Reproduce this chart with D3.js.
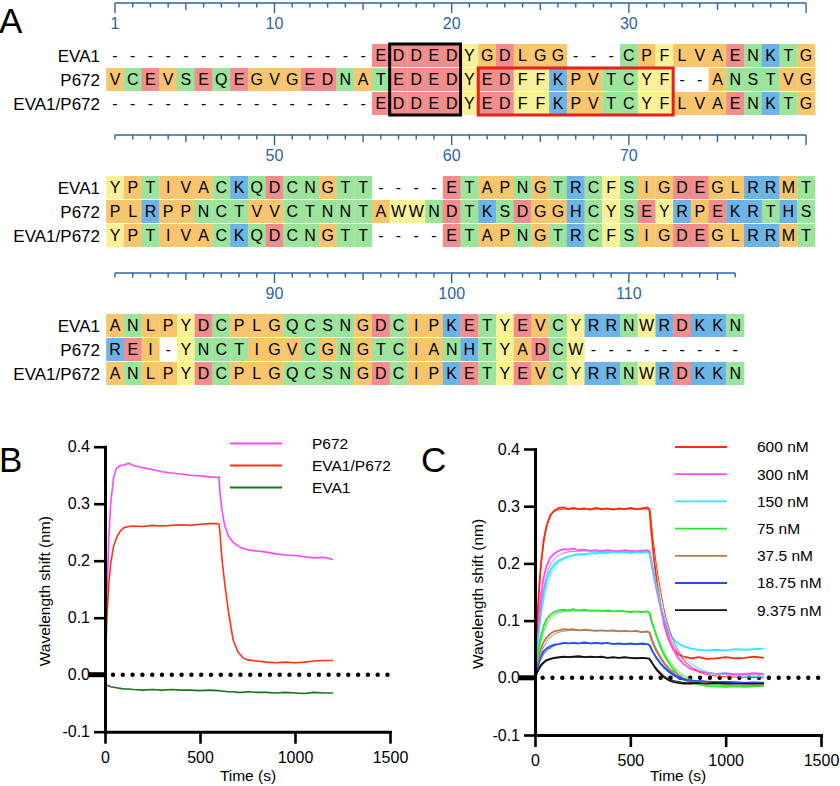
<!DOCTYPE html>
<html><head><meta charset="utf-8">
<script src="https://cdn.jsdelivr.net/npm/d3@7"></script>
<style>
body{margin:0;background:#fff}
svg{display:block}
text{font-family:"Liberation Sans",Arial,Helvetica,sans-serif}
</style>
</head><body>
<svg id="fig" width="840" height="786"></svg>
<script>
// ---------------- Panel A : alignment data ----------------
const seqNames = ["EVA1", "P672", "EVA1/P672"];
const block1 = [
  "---------------EDDEDYGDLGG---CPFLVAENKTG",
  "VCEVSEQEGVGEDNATEDEDYEDFFKPVTCYF--ANSTVG",
  "---------------EDDEDYEDFFKPVTCYFLVAENKTG"
];
const block2 = [
  "YPTIVACKQDCNGTT----ETAPNGTRCFSIGDEGLRRMT",
  "PLRPPNCTVVCTNNTAWWNDTKSDGGHCYSEYRPEKRTHS",
  "YPTIVACKQDCNGTT----ETAPNGTRCFSIGDEGLRRMT"
];
const block3 = [
  "ANLPYDCPLGQCSNGDCIPKETYEVCYRRNWRDKKN",
  "REI-YNCTIGVCGNGTCIANHTYADCW---------",
  "ANLPYDCPLGQCSNGDCIPKETYEVCYRRNWRDKKN"
];
const blockStarts = [1, 41, 81];
const residueGroups = {
  acidic: "DE", hydrophobic: "AVLIPGM", polar: "CSTNQ", basic: "KRH", aromatic: "FYW"
};
const groupColors = {
  acidic: "#f18d8d", hydrophobic: "#f8c56f", polar: "#9ce39c", basic: "#6db4e6", aromatic: "#f9f197"
};

// ---------------- Panel B : binding traces ----------------
const timeB = [0,5,10,20,30,45,60,80,100,125,150,200,250,300,350,400,450,500,550,595,600,605,615,630,650,675,700,725,750,800,850,900,950,1000,1050,1100,1150,1200];
const bP672 = [0,0.07,0.14,0.24,0.3,0.345,0.362,0.367,0.368,0.371,0.367,0.363,0.36,0.356,0.354,0.352,0.35,0.349,0.347,0.346,0.347,0.32,0.29,0.262,0.243,0.232,0.226,0.222,0.219,0.217,0.215,0.212,0.21,0.209,0.207,0.205,0.206,0.202];
const bEVA1P672 = [0,0.05,0.1,0.16,0.195,0.225,0.24,0.252,0.258,0.26,0.261,0.26,0.262,0.261,0.262,0.263,0.262,0.264,0.265,0.265,0.264,0.25,0.205,0.16,0.11,0.06,0.04,0.03,0.026,0.024,0.022,0.021,0.022,0.021,0.022,0.024,0.025,0.025];
const bEVA1 = [-0.013,-0.016,-0.018,-0.02,-0.021,-0.022,-0.023,-0.024,-0.025,-0.025,-0.026,-0.027,-0.026,-0.027,-0.026,-0.027,-0.027,-0.028,-0.027,-0.028,-0.028,-0.028,-0.029,-0.029,-0.03,-0.03,-0.031,-0.031,-0.03,-0.031,-0.031,-0.032,-0.031,-0.032,-0.033,-0.031,-0.032,-0.032];
const bLabels = ["P672", "EVA1/P672", "EVA1"];
const bColors = ["#ff45ff", "#ff3414", "#17761b"];

// ---------------- Panel C : concentration series ----------------
const timeC = [0,10,20,30,45,60,80,100,125,150,175,200,230,260,290,320,350,380,410,440,470,500,530,560,590,600,610,625,640,660,680,700,725,750,780,820,860,900,950,1000,1050,1100,1150,1200];
const c600 = [0,0.085,0.15,0.195,0.24,0.265,0.284,0.292,0.297,0.298,0.295,0.297,0.295,0.296,0.294,0.297,0.295,0.296,0.294,0.296,0.295,0.297,0.295,0.296,0.298,0.294,0.255,0.205,0.165,0.125,0.09,0.068,0.05,0.041,0.037,0.034,0.036,0.033,0.034,0.036,0.034,0.035,0.037,0.035];
const c300 = [0,0.06,0.105,0.14,0.175,0.195,0.21,0.217,0.222,0.225,0.224,0.226,0.223,0.224,0.222,0.223,0.221,0.223,0.222,0.221,0.223,0.222,0.221,0.222,0.223,0.221,0.2,0.175,0.15,0.12,0.092,0.07,0.05,0.035,0.024,0.015,0.011,0.009,0.007,0.008,0.006,0.007,0.008,0.007];
const c150 = [0,0.045,0.085,0.115,0.148,0.17,0.188,0.198,0.205,0.209,0.212,0.214,0.216,0.215,0.218,0.217,0.219,0.218,0.22,0.219,0.22,0.218,0.22,0.219,0.22,0.218,0.205,0.18,0.155,0.125,0.1,0.08,0.068,0.06,0.055,0.051,0.049,0.048,0.049,0.048,0.05,0.049,0.05,0.051];
const c75 = [0,0.03,0.055,0.072,0.09,0.102,0.11,0.115,0.118,0.119,0.118,0.12,0.118,0.119,0.117,0.118,0.117,0.118,0.116,0.117,0.116,0.115,0.116,0.115,0.116,0.113,0.1,0.085,0.07,0.052,0.038,0.027,0.015,0.006,-0.002,-0.008,-0.012,-0.014,-0.015,-0.016,-0.015,-0.016,-0.015,-0.014];
const c37 = [0,0.02,0.038,0.05,0.062,0.07,0.077,0.081,0.083,0.085,0.084,0.085,0.083,0.084,0.083,0.082,0.083,0.082,0.083,0.081,0.082,0.081,0.082,0.08,0.081,0.079,0.068,0.055,0.045,0.033,0.024,0.016,0.008,0.002,-0.003,-0.007,-0.009,-0.01,-0.011,-0.012,-0.011,-0.012,-0.013,-0.012];
const c18 = [0,0.015,0.028,0.037,0.046,0.051,0.055,0.058,0.059,0.061,0.06,0.061,0.06,0.062,0.06,0.061,0.06,0.061,0.059,0.06,0.059,0.06,0.059,0.06,0.059,0.057,0.05,0.041,0.033,0.024,0.017,0.011,0.005,0,-0.003,-0.005,-0.006,-0.007,-0.008,-0.007,-0.008,-0.009,-0.008,-0.009];
const c9 = [0,0.008,0.016,0.022,0.027,0.031,0.033,0.035,0.036,0.037,0.036,0.037,0.038,0.036,0.037,0.036,0.037,0.035,0.036,0.035,0.036,0.035,0.034,0.035,0.034,0.033,0.028,0.02,0.013,0.006,0,-0.004,-0.007,-0.009,-0.01,-0.01,-0.009,-0.01,-0.009,-0.01,-0.011,-0.01,-0.011,-0.01];
const timeFit = [0,20,40,60,80,100,130,160,200,300,400,500,600,620,640,660,680,700,730,760,800,850,900,1000,1100,1200];
const f600 = [0,0.14,0.22,0.262,0.282,0.29,0.294,0.295,0.295,0.295,0.295,0.295,0.295,0.24,0.19,0.15,0.115,0.09,0.062,0.042,0.025,0.012,0.006,0.002,0.001,0];
const f300 = [0,0.09,0.145,0.178,0.197,0.207,0.215,0.219,0.221,0.222,0.222,0.222,0.222,0.185,0.152,0.123,0.098,0.078,0.055,0.038,0.024,0.014,0.009,0.006,0.005,0.005];
const f150 = [0,0.075,0.125,0.157,0.178,0.192,0.203,0.209,0.214,0.218,0.219,0.219,0.219,0.185,0.155,0.128,0.104,0.085,0.062,0.045,0.03,0.018,0.011,0.005,0.003,0.002];
const f75 = [0,0.045,0.075,0.093,0.104,0.11,0.114,0.116,0.117,0.117,0.116,0.116,0.115,0.092,0.073,0.057,0.043,0.032,0.019,0.009,0,-0.006,-0.01,-0.013,-0.014,-0.014];
const f37 = [0,0.03,0.05,0.062,0.071,0.076,0.08,0.082,0.083,0.083,0.082,0.081,0.08,0.063,0.049,0.037,0.027,0.019,0.01,0.003,-0.003,-0.007,-0.009,-0.011,-0.012,-0.012];
const f18 = [0,0.023,0.038,0.047,0.052,0.056,0.059,0.06,0.06,0.06,0.06,0.059,0.058,0.045,0.035,0.026,0.019,0.013,0.006,0.001,-0.003,-0.005,-0.006,-0.007,-0.008,-0.008];
const f9 = [0,0.014,0.023,0.029,0.032,0.034,0.035,0.036,0.036,0.036,0.035,0.035,0.034,0.024,0.016,0.009,0.003,-0.001,-0.005,-0.007,-0.009,-0.009,-0.01,-0.01,-0.01,-0.01];
const cLabels = ["600 nM", "300 nM", "150 nM", "75 nM", "37.5 nM", "18.75 nM", "9.375 nM"];
const cColors = ["#ff2a0a", "#ff4cff", "#28eaff", "#2ee52e", "#b07c4c", "#1f4dff", "#111111"];

const yTicks = [-0.1, 0, 0.1, 0.2, 0.3, 0.4];
const xTicks = [0, 500, 1000, 1500];

// ======================= drawing =======================
const svg = d3.select("#fig");
const FONT = '"Liberation Sans",Arial,Helvetica,sans-serif';

function colorOf(ch) {
  for (const k in residueGroups) if (residueGroups[k].includes(ch)) return groupColors[k];
  return null;
}

// panel letters
svg.append("text").attr("x", -1).attr("y", 33).attr("font-size", 35).text("A");
svg.append("text").attr("x", -1).attr("y", 472).attr("font-size", 35).text("B");
svg.append("text").attr("x", 421).attr("y", 472).attr("font-size", 35).text("C");

const colStep = 17.72;
const rulerYs = [3, 135, 273];
const blocks = [block1, block2, block3];
const rulerColor = "#2c64a3";

blocks.forEach((rows, bi) => {
  const n = rows[0].length;
  const start = blockStarts[bi];
  const ry = rulerYs[bi];
  const xb = d3.scaleBand().domain(d3.range(n))
    .range([115 - colStep / 2, 115 - colStep / 2 + n * colStep]).padding(0);
  const yb = d3.scaleBand().domain(seqNames)
    .range([ry + 41, ry + 112]).paddingInner(0.04).paddingOuter(0);
  const g = svg.append("g");

  // ruler
  const cx = i => xb(i) + xb.bandwidth() / 2;
  g.append("line").attr("x1", cx(0)).attr("x2", cx(n - 1)).attr("y1", ry).attr("y2", ry)
    .attr("stroke", rulerColor).attr("stroke-width", 1.4);
  d3.range(n).forEach(i => {
    const p = start + i;
    const len = (p % 10 === 0 || p === 1) ? 10 : (p % 5 === 0 ? 7 : 4.5);
    g.append("line").attr("x1", cx(i)).attr("x2", cx(i)).attr("y1", ry).attr("y2", ry + len)
      .attr("stroke", rulerColor).attr("stroke-width", 1.4);
    if ((p === 1 || p % 10 === 0) && i < n - 1) {
      g.append("text").attr("x", cx(i)).attr("y", ry + 20).attr("dy", "0.35em")
        .attr("text-anchor", "middle").attr("font-size", 16).attr("fill", rulerColor).text(p);
    }
  });

  // cells + letters
  rows.forEach((seq, ri) => {
    const name = seqNames[ri];
    const y0 = yb(name), h = yb.bandwidth();
    g.append("text").attr("x", 100).attr("y", y0 + h / 2).attr("dy", "0.36em")
      .attr("text-anchor", "end").attr("font-size", 17).text(name);
    seq.split("").forEach((ch, i) => {
      const c = colorOf(ch);
      if (c) g.append("rect").attr("x", xb(i)).attr("y", y0).attr("width", xb.bandwidth() + 0.3)
        .attr("height", h).attr("fill", c);
      g.append("text").attr("x", cx(i)).attr("y", y0 + h / 2).attr("dy", "0.36em")
        .attr("text-anchor", "middle").attr("font-size", 16).text(ch);
    });
  });

  if (bi === 0) {
    // black box (columns 17-20, all rows)
    g.append("rect").attr("x", xb(16)).attr("y", yb(seqNames[0]))
      .attr("width", 4 * xb.step()).attr("height", yb(seqNames[2]) + yb.bandwidth() - yb(seqNames[0]))
      .attr("fill", "none").attr("stroke", "#000").attr("stroke-width", 3);
    // red box (columns 22-32, rows 2-3)
    g.append("rect").attr("x", xb(21)).attr("y", yb(seqNames[1]))
      .attr("width", 11 * xb.step()).attr("height", yb(seqNames[2]) + yb.bandwidth() - yb(seqNames[1]))
      .attr("fill", "none").attr("stroke", "#e8201b").attr("stroke-width", 3);
  }
});

// ---------- plot helper ----------
function plotPanel(opts) {
  const x = d3.scaleLinear().domain([0, 1500]).range(opts.xr);
  const y = d3.scaleLinear().domain([-0.1, 0.4]).range(opts.yr);
  const g = svg.append("g");
  const fmt = v => (v < 0 ? "-" : "") + Math.abs(v).toFixed(1);

  // dotted zero line
  d3.range(opts.dotStart, 1500, 51.6).forEach(t => {
    g.append("circle").attr("cx", x(t)).attr("cy", y(0)).attr("r", 2.2).attr("fill", "#000");
  });

  const line = d3.line().x(d => x(d[0])).y(d => y(d[1]));
  opts.series.forEach(s => {
    g.append("path").datum(d3.zip(s.t, s.v)).attr("d", line)
      .attr("fill", "none").attr("stroke", s.color).attr("stroke-width", s.w || 1.6)
      .attr("stroke-linejoin", "round");
  });
  const fitLine = d3.line().x(d => x(d[0])).y(d => y(d[1])).curve(d3.curveMonotoneX);
  (opts.fits || []).forEach(s => {
    g.append("path").datum(d3.zip(s.t, s.v)).attr("d", fitLine)
      .attr("fill", "none").attr("stroke", s.color).attr("stroke-width", 1)
      .attr("stroke-opacity", 0.95);
  });

  // axes
  const ya = d3.axisLeft(y).tickValues(yTicks).tickFormat(fmt).tickSize(11).tickSizeOuter(0).tickPadding(4);
  const gy = g.append("g").attr("transform", `translate(${x(0)},0)`).call(ya);
  const xa = d3.axisBottom(x).tickValues(xTicks).tickFormat(d3.format("d")).tickSize(12).tickSizeOuter(0).tickPadding(8);
  const gx = g.append("g").attr("transform", `translate(0,${y(-0.1)})`).call(xa);
  [gx, gy].forEach(a => {
    a.select(".domain").attr("stroke", "#000").attr("stroke-width", 3).attr("stroke-linecap", "square");
    a.selectAll(".tick line").attr("stroke", "#000").attr("stroke-width", 2.6);
    a.selectAll(".tick text").attr("font-size", 16).attr("font-family", FONT).attr("fill", "#000");
  });
  // thick baseline mark at zero
  g.append("line").attr("x1", x(0) - 16).attr("x2", x(0)).attr("y1", y(0)).attr("y2", y(0))
    .attr("stroke", "#000").attr("stroke-width", 5);

  g.append("text").attr("x", opts.xTitleX).attr("y", 781).attr("text-anchor", "middle")
    .attr("font-size", 15.5).text("Time (s)");
  g.append("text").attr("transform", `translate(${opts.yTitleX},${(opts.yr[0] + opts.yr[1]) / 2 + 2}) rotate(-90)`)
    .attr("text-anchor", "middle").attr("dy", "0.35em").attr("font-size", 15.5)
    .text("Wavelength shift  (nm)");

  // legend
  opts.legend.forEach((L, i) => {
    const ly = opts.legY + i * opts.legStep;
    g.append("line").attr("x1", opts.legX1).attr("x2", opts.legX2).attr("y1", ly).attr("y2", ly)
      .attr("stroke", L.color).attr("stroke-width", 1.8);
    g.append("text").attr("x", opts.legTX).attr("y", ly).attr("dy", "0.35em")
      .attr("font-size", 15.5).text(L.label);
  });
}

plotPanel({
  xr: [105, 390], yr: [731.7, 446.7], dotStart: 42,
  series: [
    { t: timeB, v: bP672, color: bColors[0] },
    { t: timeB, v: bEVA1P672, color: bColors[1] },
    { t: timeB, v: bEVA1, color: bColors[2] }
  ],
  xTitleX: 248, yTitleX: 45,
  legend: bLabels.map((l, i) => ({ label: l, color: bColors[i] })),
  legX1: 230, legX2: 282, legTX: 312, legY: 443.5, legStep: 22
});

const cData = [c600, c300, c150, c75, c37, c18, c9];
const cFits = [f600, f300, f150, f75, f37, f18, f9];
plotPanel({
  xr: [535, 821], yr: [735, 449], dotStart: 40,
  series: cData.map((v, i) => ({ t: timeC, v: v, color: cColors[i], w: 1.8 })),
  fits: cFits.map((v, i) => ({ t: timeFit, v: v, color: cColors[i] })),
  xTitleX: 678, yTitleX: 478,
  legend: cLabels.map((l, i) => ({ label: l, color: cColors[i] })),
  legX1: 675, legX2: 727, legTX: 757, legY: 447, legStep: 27.2
});
</script>
</body></html>
